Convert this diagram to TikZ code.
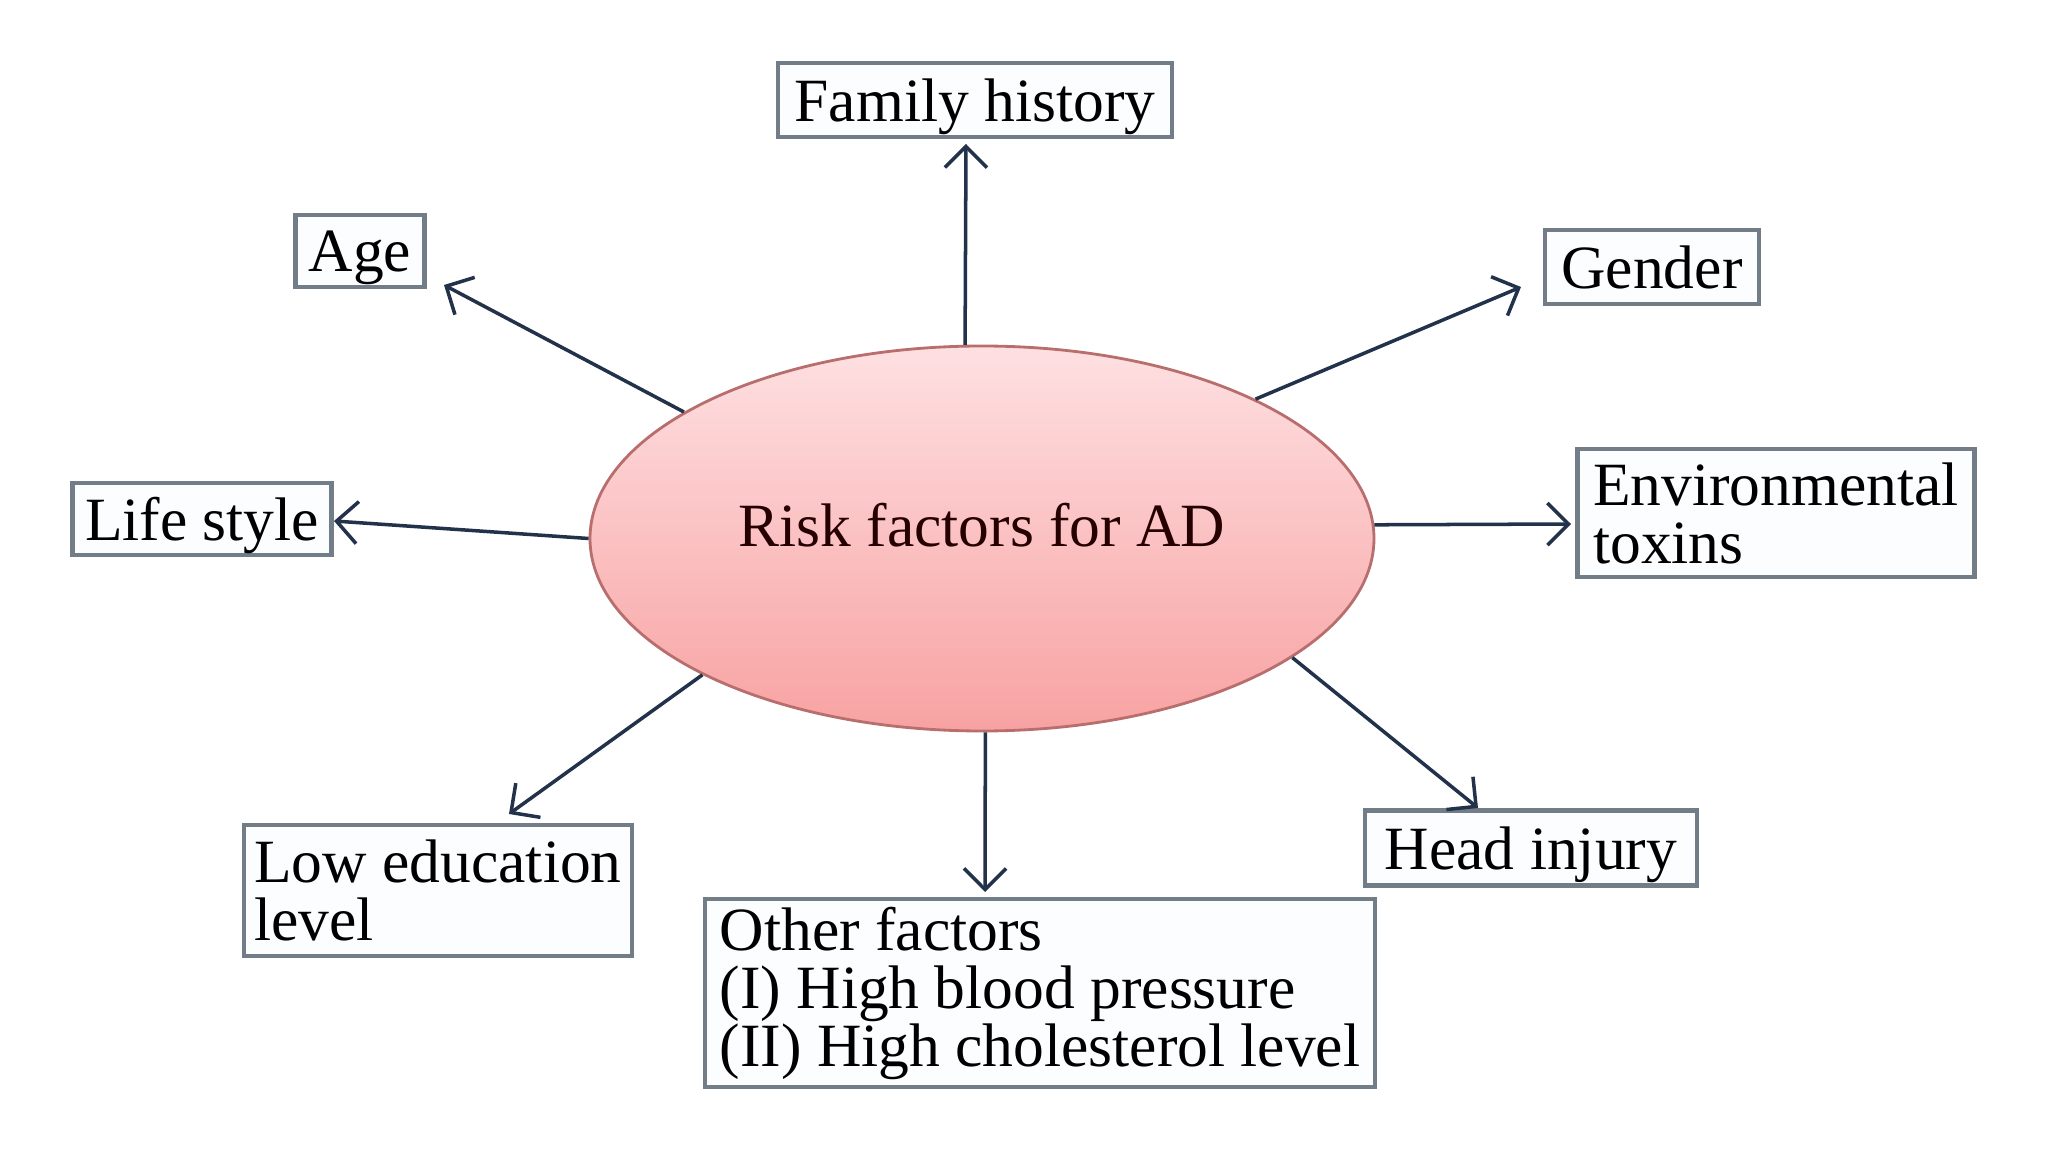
\documentclass[tikz,border=0pt]{standalone}
\usepackage{fontspec}
\setmainfont{Liberation Serif}
\usepackage{xcolor}
\usetikzlibrary{arrows.meta}
\usetikzlibrary{shapes.geometric}
\definecolor{arrowblue}{RGB}{35,50,75}
\definecolor{boxgray}{RGB}{115,125,135}
\definecolor{boxfill}{RGB}{252,253,255}
\definecolor{pinktop}{RGB}{254,224,226}
\definecolor{pinkbot}{RGB}{248,162,162}
\definecolor{pinkedge}{RGB}{185,110,110}
\tikzset{
  factor/.style={draw=boxgray, line width=1.3pt, fill=boxfill, inner sep=2pt,
    align=left, font=\fontsize{17.5}{16.5}\selectfont},
  oneline/.style={text depth=0pt},
  link/.style={arrowblue, line width=1pt, -{Straight Barb[length=6pt,width=12pt]}}
}

\begin{document}
\begin{tikzpicture}
  \useasboundingbox (0,0) rectangle (20.48,-11.52);
  %The central ellipse:
  \node[ellipse, draw=pinkedge, line width=0.8pt, top color=pinktop, bottom color=pinkbot,
    minimum width=7.84cm, minimum height=3.85cm, inner sep=0pt,
    font=\fontsize{17.5}{16.5}\selectfont, text=black!85!red] (risk) at (9.82,-5.385)
    {\raisebox{0.28cm}{Risk factors for AD}};

  %The boxes around it:
  \node[factor, oneline, minimum width=3.94cm, minimum height=0.74cm] (fam) at (9.75,-1.00) {Family history};
  \node[factor, oneline, minimum width=1.29cm, minimum height=0.72cm] (age) at (3.60,-2.51) {Age};
  \node[factor, oneline, minimum width=2.14cm, minimum height=0.74cm] (gen) at (16.52,-2.67) {Gender};
  \node[factor, oneline, minimum width=2.59cm, minimum height=0.72cm] (life) at (2.02,-5.19) {Life style};
  \node[factor, minimum width=3.97cm, minimum height=1.28cm] (env) at (17.76,-5.13) {Environmental\\toxins};
  \node[factor, oneline, minimum width=3.32cm, minimum height=0.75cm] (head) at (15.31,-8.48) {Head injury};
  \node[factor, minimum width=3.88cm, minimum height=1.31cm] (edu) at (4.38,-8.905) {Low education\\level};
  \node[factor, minimum width=6.70cm, minimum height=1.88cm] (oth) at (10.40,-9.93)
    {Other factors\\(I) High blood pressure\\(II) High cholesterol level};

  %Where the arrows stop:
  \coordinate (famTip) at (9.66,-1.44);
  \coordinate (ageTip) at (4.44,-2.85);
  \coordinate (genTip) at (15.21,-2.87);
  \coordinate (lifeTip) at (3.34,-5.21);
  \coordinate (envTip) at (15.71,-5.24);
  \coordinate (headTip) at (14.78,-8.08);
  \coordinate (eduTip) at (5.09,-8.14);
  \coordinate (othTip) at (9.85,-8.92);

  %The arrows:
  \draw[link] (risk.95) -- (famTip);
  \draw[link] (risk.157) -- (ageTip);
  \draw[link] (risk.27) -- (genTip);
  \draw[link] (risk.180) -- (lifeTip);
  \draw[link] (risk.2) -- (envTip);
  \draw[link] (risk.-21) -- (headTip);
  \draw[link] (risk.206) -- (eduTip);
  \draw[link] (risk.-89) -- (othTip);
\end{tikzpicture}
\end{document}
